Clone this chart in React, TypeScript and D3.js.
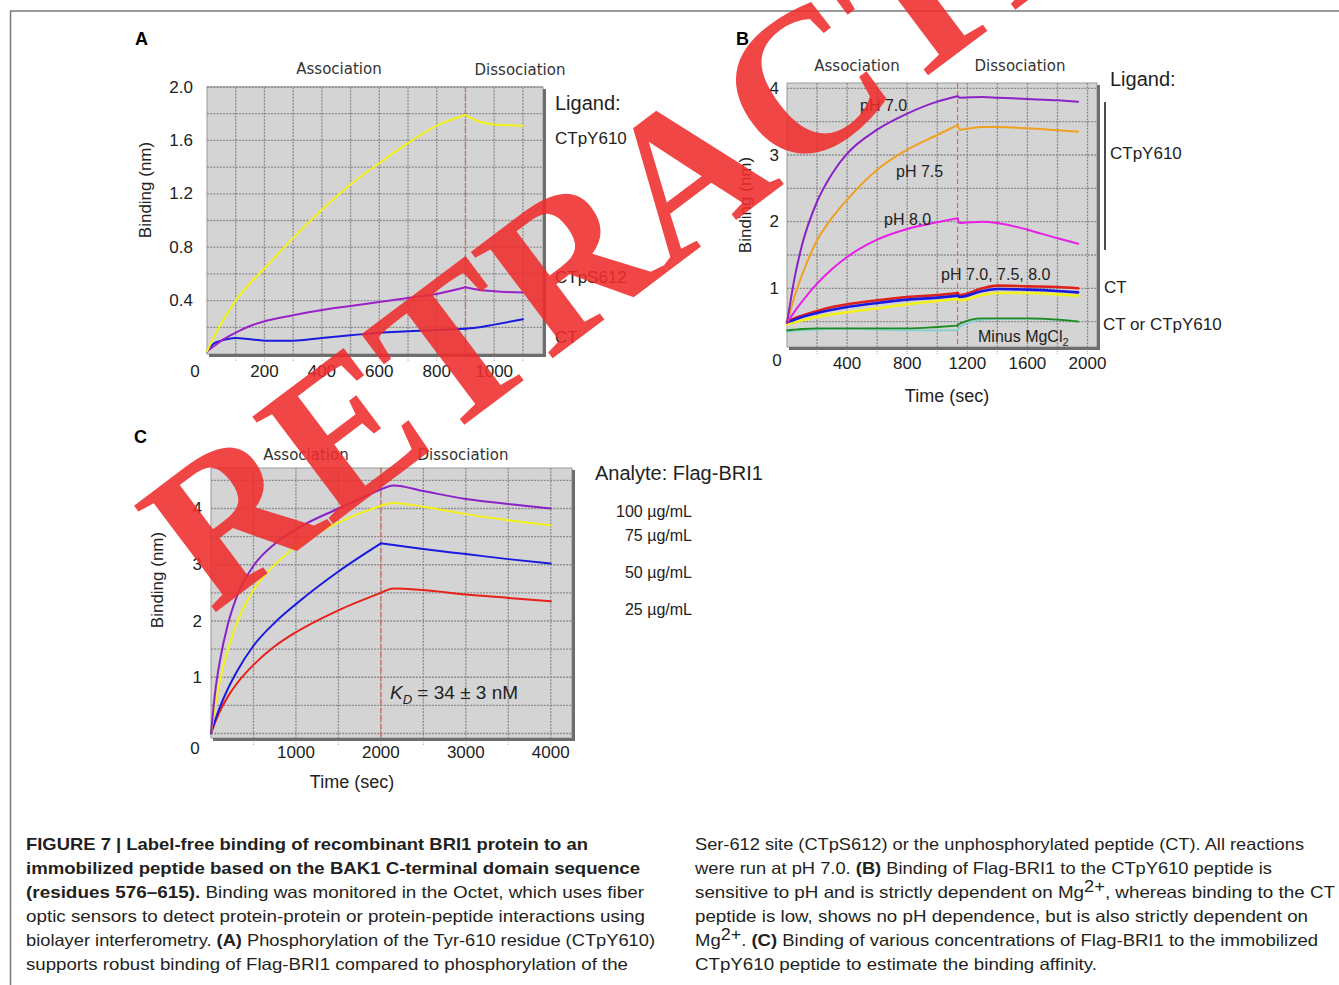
import React from 'react';
import * as d3 from 'd3';

// ---- Panel A: ligand comparison (time in s, binding in nm)
const timeA = [0, 25, 50, 100, 150, 200, 300, 400, 500, 600, 700, 800, 900, 950, 1000, 1100];
const aCTpY610 = [0.02, 0.13, 0.23, 0.4, 0.53, 0.64, 0.87, 1.08, 1.27, 1.43, 1.58, 1.71, 1.79, 1.74, 1.72, 1.71];
const aCTpS612 = [0.02, 0.06, 0.1, 0.16, 0.21, 0.245, 0.29, 0.33, 0.36, 0.39, 0.42, 0.45, 0.5, 0.48, 0.47, 0.46];
const aCT = [0.02, 0.08, 0.1, 0.12, 0.11, 0.1, 0.1, 0.12, 0.14, 0.16, 0.17, 0.18, 0.19, 0.2, 0.22, 0.26];

// ---- Panel B: pH / Mg dependence
const timeB = [0, 50, 100, 200, 300, 400, 600, 800, 1000, 1135, 1150, 1300, 1400, 1600, 1800, 1937];
const bPH70 = [0.48, 1.15, 1.65, 2.3, 2.72, 3.02, 3.38, 3.62, 3.8, 3.88, 3.86, 3.87, 3.86, 3.84, 3.82, 3.8];
const bPH75 = [0.48, 0.88, 1.2, 1.72, 2.06, 2.33, 2.78, 3.08, 3.3, 3.45, 3.38, 3.42, 3.42, 3.4, 3.37, 3.35];
const bPH80 = [0.48, 0.65, 0.8, 1.07, 1.29, 1.47, 1.73, 1.89, 1.99, 2.05, 1.98, 2.0, 1.98, 1.88, 1.75, 1.67];
const bCTred = [0.5, 0.55, 0.59, 0.66, 0.72, 0.76, 0.82, 0.87, 0.9, 0.93, 0.9, 1.0, 1.04, 1.03, 1.02, 1.0];
const bCTblue = [0.49, 0.53, 0.57, 0.63, 0.68, 0.72, 0.78, 0.83, 0.86, 0.89, 0.87, 0.96, 0.99, 0.98, 0.96, 0.94];
const bCTyellow = [0.46, 0.49, 0.52, 0.57, 0.61, 0.64, 0.7, 0.76, 0.81, 0.84, 0.82, 0.9, 0.93, 0.93, 0.91, 0.89];
const bNoMgGreen = [0.37, 0.38, 0.39, 0.4, 0.4, 0.4, 0.4, 0.4, 0.42, 0.44, 0.47, 0.55, 0.55, 0.55, 0.53, 0.5];
const bNoMgCyan = [0.34, 0.36, 0.37, 0.38, 0.39, 0.39, 0.38, 0.37, 0.37, 0.37, 0.42, 0.53, 0.54, 0.54, 0.53, 0.51];

// ---- Panel C: Flag-BRI1 concentrations
const timeC = [0, 50, 100, 200, 300, 500, 750, 1000, 1500, 2000, 2150, 2500, 3000, 3500, 4000];
const c100 = [0, 0.75, 1.25, 1.95, 2.42, 2.98, 3.37, 3.63, 4.0, 4.34, 4.41, 4.31, 4.17, 4.08, 4.0];
const c75 = [0, 0.5, 0.9, 1.5, 1.95, 2.55, 3.0, 3.32, 3.75, 4.05, 4.1, 4.03, 3.9, 3.79, 3.7];
const c50 = [0, 0.24, 0.45, 0.8, 1.09, 1.56, 1.97, 2.3, 2.88, 3.38, 3.35, 3.28, 3.19, 3.1, 3.02];
const c25 = [0, 0.2, 0.38, 0.66, 0.88, 1.22, 1.55, 1.8, 2.19, 2.5, 2.58, 2.55, 2.47, 2.41, 2.35];
const concLabels = ['100 µg/mL', '75 µg/mL', '50 µg/mL', '25 µg/mL'];

const ticksA = [200, 400, 600, 800, 1000];
const yTicksA = [0.4, 0.8, 1.2, 1.6, 2.0];
const ticksB = [400, 800, 1200, 1600, 2000];
const yTicksB = [1, 2, 3, 4];
const ticksC = [1000, 2000, 3000, 4000];
const yTicksC = [1, 2, 3, 4];

// caption, each line a list of [text, bold]; '^' marks a superscript
const captionLeft: [string, boolean][][] = [
  [['FIGURE 7 | Label-free binding of recombinant BRI1 protein to an', true]],
  [['immobilized peptide based on the BAK1 C-terminal domain sequence', true]],
  [['(residues 576–615).', true], ['  Binding was monitored in the Octet, which uses fiber', false]],
  [['optic sensors to detect protein-protein or protein-peptide interactions using', false]],
  [['biolayer interferometry. ', false], ['(A)', true], [' Phosphorylation of the Tyr-610 residue (CTpY610)', false]],
  [['supports robust binding of Flag-BRI1 compared to phosphorylation of the', false]],
];
const captionRight: [string, boolean][][] = [
  [['Ser-612 site (CTpS612) or the unphosphorylated peptide (CT). All reactions', false]],
  [['were run at pH 7.0. ', false], ['(B)', true], [' Binding of Flag-BRI1 to the CTpY610 peptide is', false]],
  [['sensitive to pH and is strictly dependent on Mg', false], ['^2+', false], [', whereas binding to the CT', false]],
  [['peptide is low, shows no pH dependence, but is also strictly dependent on', false]],
  [['Mg', false], ['^2+', false], ['. ', false], ['(C)', true], [' Binding of various concentrations of Flag-BRI1 to the immobilized', false]],
  [['CTpY610 peptide to estimate the binding affinity.', false]],
];
const leftEnds = [588, 640, 644, 645, 655, 628];
const rightEnds = [1304, 1272, 1335, 1308, 1318, 1097];

const SANS = 'Arial, "Liberation Sans", sans-serif';

type Series = { values: number[]; color: string; width?: number };

type PanelProps = {
  box: { x0: number; y0: number; x1: number; y1: number };
  xMax: number;
  yMin: number;
  yMax: number;
  xStep: number;
  yStep: number;
  dissoc: number;
  time: number[];
  series: Series[];
  xTicks: number[];
  yTicks: number[];
  yFmt: (v: number) => string;
  xLabelY: number;
  yLabelX: number;
  zero: [number, number];
};

function Panel(p: PanelProps) {
  const { box } = p;
  const x = d3.scaleLinear().domain([0, p.xMax]).range([box.x0, box.x1]);
  const y = d3.scaleLinear().domain([p.yMin, p.yMax]).range([box.y1, box.y0]);
  const eps = 1e-6;
  const xg = d3.range(p.xStep, p.xMax - eps, p.xStep);
  const yg = d3.range(0, p.yMax + eps, p.yStep).filter(v => v > p.yMin + eps && v < p.yMax + eps);
  const line = d3.line<[number, number]>()
    .x(d => x(d[0]))
    .y(d => y(d[1]))
    .curve(d3.curveMonotoneX);
  // association and dissociation phases are smoothed separately so the switch stays sharp
  const cut = p.time.indexOf(p.dissoc);
  const phases = (vals: number[]) => {
    const pts = vals.map((v, i) => [p.time[i], v] as [number, number]);
    return [pts.slice(0, cut + 1), pts.slice(cut)];
  };
  return (
    <g>
      <rect x={box.x0} y={box.y0} width={box.x1 - box.x0} height={box.y1 - box.y0} fill="#d4d4d4" stroke="#9a9a9a" strokeWidth={1} />
      {yg.map(v => (
        <line key={'h' + v} x1={box.x0} x2={box.x1} y1={y(v)} y2={y(v)} stroke="#8a8a8a" strokeWidth={1.3} strokeDasharray="2 1.2" />
      ))}
      {xg.map(v => (
        <g key={'v' + v}>
          <line x1={x(v)} x2={x(v)} y1={box.y0} y2={box.y1} stroke="#8a8a8a" strokeWidth={1.3} strokeDasharray="2 1.2" />
          <line x1={x(v)} x2={x(v)} y1={box.y1 + 2} y2={box.y1 + 7} stroke="#b0b0b0" strokeWidth={1} strokeDasharray="1 1" />
        </g>
      ))}
      <line x1={box.x1 + 1.5} x2={box.x1 + 1.5} y1={box.y0 + 2} y2={box.y1 + 3} stroke="#6e6e6e" strokeWidth={3} />
      <line x1={box.x0 + 2} x2={box.x1 + 3} y1={box.y1 + 1.5} y2={box.y1 + 1.5} stroke="#6e6e6e" strokeWidth={3} />
      <line x1={x(p.dissoc)} x2={x(p.dissoc)} y1={box.y0} y2={box.y1} stroke="#d46a62" strokeWidth={1.2} strokeDasharray="5 3" />
      {p.series.map((s, i) =>
        phases(s.values).map((pts, j) => (
          <path key={i + '-' + j} d={line(pts) || ''} fill="none" stroke={s.color} strokeWidth={s.width ?? 2} strokeLinejoin="round" strokeLinecap="round" />
        ))
      )}
      {p.xTicks.map(t => (
        <text key={'xt' + t} x={x(t)} y={p.xLabelY} textAnchor="middle" fontSize={17} fill="#222">{t}</text>
      ))}
      {p.yTicks.map(t => (
        <text key={'yt' + t} x={p.yLabelX} y={y(t)} textAnchor="end" dominantBaseline="central" fontSize={17} fill="#222">{p.yFmt(t)}</text>
      ))}
      <text x={x(0) + p.zero[0]} y={p.zero[1]} textAnchor="middle" fontSize={17} fill="#222">0</text>
    </g>
  );
}

function CaptionLine({ segs, x, y, end }: { segs: [string, boolean][]; x: number; y: number; end: number }) {
  return (
    <text x={x} y={y} fontSize={16.5} fill="#231f20" textLength={end - x} lengthAdjust="spacingAndGlyphs">
      {segs.map(([t, b], i) =>
        t.startsWith('^') ? (
          <tspan key={i} dy={-6} fontSize={16}>{t.slice(1)}</tspan>
        ) : (
          <tspan key={i} dy={i > 0 && segs[i - 1][0].startsWith('^') ? 6 : 0} fontWeight={b ? 'bold' : 'normal'}>{t}</tspan>
        )
      )}
    </text>
  );
}

export default function App() {
  const lab = { fontFamily: '"DejaVu Sans", Verdana, sans-serif', fontSize: 15, fill: '#333' } as const;
  return (
    <svg width={1339} height={985} style={{ position: 'absolute', left: 0, top: 0, background: '#fff' }} fontFamily={SANS}>
      <rect width={1339} height={985} fill="#fff" />
      <line x1={10} x2={1339} y1={11} y2={11} stroke="#7a7a7a" strokeWidth={1.5} />
      <line x1={10.5} x2={10.5} y1={11} y2={985} stroke="#7a7a7a" strokeWidth={1.5} />

      {/* Panel A */}
      <text x={135} y={45} fontSize={18} fontWeight="bold">A</text>
      <text x={339} y={74} textAnchor="middle" {...lab}>Association</text>
      <text x={520} y={75} textAnchor="middle" {...lab}>Dissociation</text>
      <Panel
        box={{ x0: 207, y0: 87, x1: 543, y1: 354 }}
        xMax={1170} yMin={0} yMax={2.0} xStep={100} yStep={0.2} dissoc={900}
        time={timeA}
        series={[
          { values: aCT, color: '#1a1adf' },
          { values: aCTpS612, color: '#9a22c8' },
          { values: aCTpY610, color: '#f2f21a' },
        ]}
        xTicks={ticksA} yTicks={yTicksA} yFmt={d3.format('.1f')}
        xLabelY={377} yLabelX={193} zero={[-12, 377]}
      />
      <text transform="translate(151,190) rotate(-90)" textAnchor="middle" fontSize={17} fill="#222">Binding (nm)</text>
      <text x={555} y={110} fontSize={20} fill="#222">Ligand:</text>
      <text x={555} y={144} fontSize={17} fill="#222">CTpY610</text>
      <text x={555} y={283} fontSize={17} fill="#222">CTpS612</text>
      <text x={555} y={343} fontSize={17} fill="#222">CT</text>

      {/* Panel B */}
      <text x={736} y={45} fontSize={18} fontWeight="bold">B</text>
      <text x={857} y={71} textAnchor="middle" {...lab}>Association</text>
      <text x={1020} y={71} textAnchor="middle" {...lab}>Dissociation</text>
      <Panel
        box={{ x0: 787, y0: 83, x1: 1097, y1: 347 }}
        xMax={2063} yMin={0.12} yMax={4.08} xStep={200} yStep={0.5} dissoc={1135}
        time={timeB}
        series={[
          { values: bNoMgCyan, color: '#7fd0d0', width: 1.6 },
          { values: bNoMgGreen, color: '#1f8a1f', width: 1.8 },
          { values: bCTyellow, color: '#f2f21a', width: 2.6 },
          { values: bCTred, color: '#e0201a', width: 2.6 },
          { values: bCTblue, color: '#1a1adf', width: 2.6 },
          { values: bPH80, color: '#e81ee8' },
          { values: bPH75, color: '#f0a020' },
          { values: bPH70, color: '#8a22c8' },
        ]}
        xTicks={ticksB} yTicks={yTicksB} yFmt={d3.format('d')}
        xLabelY={369} yLabelX={779} zero={[-10, 366]}
      />
      <text transform="translate(751,205) rotate(-90)" textAnchor="middle" fontSize={17} fill="#222">Binding (nm)</text>
      <text x={947} y={402} textAnchor="middle" fontSize={18} fill="#222">Time (sec)</text>
      <text x={860} y={111} fontSize={16} fill="#222">pH 7.0</text>
      <text x={896} y={177} fontSize={16} fill="#222">pH 7.5</text>
      <text x={884} y={225} fontSize={16} fill="#222">pH 8.0</text>
      <text x={941} y={280} fontSize={16} fill="#222">pH 7.0, 7.5, 8.0</text>
      <text x={978} y={342} fontSize={16} fill="#222">Minus MgCl<tspan fontSize={11} dy={4}>2</tspan></text>
      <text x={1110} y={86} fontSize={20} fill="#222">Ligand:</text>
      <line x1={1105} x2={1105} y1={102} y2={250} stroke="#111" strokeWidth={1.5} />
      <text x={1110} y={159} fontSize={17} fill="#222">CTpY610</text>
      <text x={1104} y={293} fontSize={17} fill="#222">CT</text>
      <text x={1103} y={330} fontSize={17} fill="#222">CT or CTpY610</text>

      {/* Panel C */}
      <text x={134} y={443} fontSize={18} fontWeight="bold">C</text>
      <text x={306} y={460} textAnchor="middle" {...lab}>Association</text>
      <text x={463} y={460} textAnchor="middle" {...lab}>Dissociation</text>
      <Panel
        box={{ x0: 211, y0: 468, x1: 572, y1: 738 }}
        xMax={4250} yMin={-0.08} yMax={4.72} xStep={500} yStep={0.5} dissoc={2000}
        time={timeC}
        series={[
          { values: c25, color: '#e8201a' },
          { values: c50, color: '#1a1adf' },
          { values: c75, color: '#f2f21a' },
          { values: c100, color: '#8a22c8' },
        ]}
        xTicks={ticksC} yTicks={yTicksC} yFmt={d3.format('d')}
        xLabelY={758} yLabelX={202} zero={[-16, 754]}
      />
      <text transform="translate(163,580) rotate(-90)" textAnchor="middle" fontSize={17} fill="#222">Binding (nm)</text>
      <text x={352} y={788} textAnchor="middle" fontSize={18} fill="#222">Time (sec)</text>
      <text x={390} y={699} fontSize={19} fill="#222"><tspan fontStyle="italic">K</tspan><tspan fontStyle="italic" fontSize={13} dy={5}>D</tspan><tspan dy={-5}> = 34 ± 3 nM</tspan></text>
      <text x={595} y={480} fontSize={20} fill="#222">Analyte:  Flag-BRI1</text>
      {concLabels.map((c, i) => (
        <text key={c} x={692} y={[517, 541, 578, 615][i]} textAnchor="end" fontSize={16} fill="#222">{c}</text>
      ))}

      {/* Caption */}
      {captionLeft.map((segs, i) => (
        <CaptionLine key={'l' + i} segs={segs} x={26} y={850 + i * 24} end={leftEnds[i]} />
      ))}
      {captionRight.map((segs, i) => (
        <CaptionLine key={'r' + i} segs={segs} x={695} y={850 + i * 24} end={rightEnds[i]} />
      ))}

      {/* Watermark */}
      <text
        transform="translate(212,615) rotate(-37)"
        fontFamily='"Liberation Serif", "Times New Roman", serif'
        fontWeight="bold"
        fontSize={205}
        fill="rgb(240,45,45)"
        opacity={0.88}
      >
        RETRACTED
      </text>
    </svg>
  );
}
